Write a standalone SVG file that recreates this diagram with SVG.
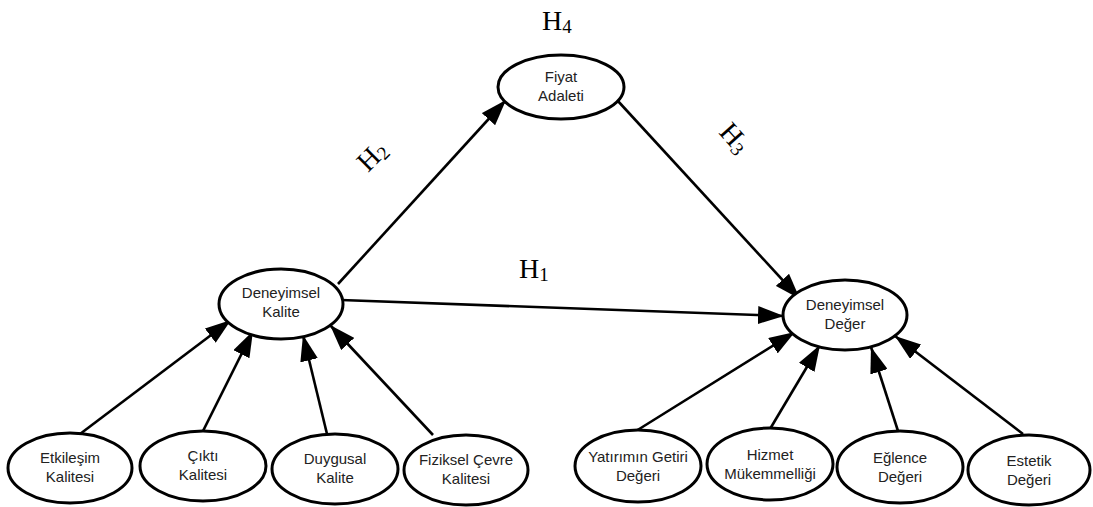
<svg xmlns="http://www.w3.org/2000/svg" width="1093" height="507" viewBox="0 0 1093 507">
  <style>
    .node ellipse { fill: #ffffff; stroke: #000000; stroke-width: 3; }
    .node text { font-family: "Liberation Sans", Arial, sans-serif; font-size: 15px; fill: #222222; text-anchor: middle; }
    .edges line { stroke: #000000; stroke-width: 2.6; marker-end: url(#arrow); }
    .hyp { font-family: "Liberation Serif", "Times New Roman", serif; font-size: 28px; fill: #000000; }
    .hyp tspan.sub { font-size: 19px; }
  </style>
  <defs>
    <marker id="arrow" viewBox="0 0 26 18" refX="26" refY="9" markerWidth="26" markerHeight="18" markerUnits="userSpaceOnUse" orient="auto">
      <path d="M0,0 L26,9 L0,18 Z" fill="#000000"/>
    </marker>
  </defs>
  <rect width="1093" height="507" fill="#ffffff"/>

  <!-- connectors -->
  <g id="edges" class="edges">
    <line x1="338" y1="284" x2="506" y2="100"/>
    <line x1="617" y1="100" x2="800" y2="299"/>
    <line x1="341" y1="300" x2="784" y2="316"/>
    <line x1="80" y1="434" x2="231" y2="320"/>
    <line x1="203" y1="431" x2="253" y2="331"/>
    <line x1="327" y1="434" x2="303" y2="335"/>
    <line x1="433" y1="435" x2="330" y2="325"/>
    <line x1="636" y1="431" x2="795" y2="332"/>
    <line x1="770" y1="429" x2="820" y2="345"/>
    <line x1="898" y1="431" x2="871" y2="347"/>
    <line x1="1023" y1="434" x2="895" y2="336"/>
  </g>

  <!-- hypothesis labels -->
  <text class="hyp" x="542" y="30">H<tspan class="sub" dy="3">4</tspan></text>
  <text class="hyp" x="519" y="278">H<tspan class="sub" dy="3">1</tspan></text>
  <text class="hyp" transform="translate(368,173) rotate(-45)">H<tspan class="sub" dy="3">2</tspan></text>
  <text class="hyp" transform="translate(718,133) rotate(48)">H<tspan class="sub" dy="3">3</tspan></text>

  <!-- central constructs -->
  <g id="fiyat-adaleti" class="node">
    <ellipse cx="561" cy="87" rx="63" ry="32"/>
    <text x="561" y="82">Fiyat</text>
    <text x="561" y="101">Adaleti</text>
  </g>
  <g id="deneyimsel-kalite" class="node">
    <ellipse cx="281" cy="304" rx="62" ry="35"/>
    <text x="281" y="298">Deneyimsel</text>
    <text x="281" y="317">Kalite</text>
  </g>
  <g id="deneyimsel-deger" class="node">
    <ellipse cx="845" cy="315" rx="62" ry="35"/>
    <text x="845" y="310">Deneyimsel</text>
    <text x="845" y="329">Değer</text>
  </g>

  <!-- quality dimensions -->
  <g id="etkilesim-kalitesi" class="node">
    <ellipse cx="70" cy="468" rx="62" ry="35"/>
    <text x="70" y="463">Etkileşim</text>
    <text x="70" y="482">Kalitesi</text>
  </g>
  <g id="cikti-kalitesi" class="node">
    <ellipse cx="203" cy="466" rx="63" ry="35"/>
    <text x="203" y="461">Çıktı</text>
    <text x="203" y="480">Kalitesi</text>
  </g>
  <g id="duygusal-kalite" class="node">
    <ellipse cx="335" cy="469" rx="63" ry="35"/>
    <text x="335" y="464">Duygusal</text>
    <text x="335" y="483">Kalite</text>
  </g>
  <g id="fiziksel-cevre-kalitesi" class="node">
    <ellipse cx="466" cy="470" rx="62" ry="35"/>
    <text x="466" y="465">Fiziksel Çevre</text>
    <text x="466" y="484">Kalitesi</text>
  </g>

  <!-- value dimensions -->
  <g id="yatirimin-getiri-degeri" class="node">
    <ellipse cx="638" cy="466" rx="63" ry="36"/>
    <text x="638" y="462">Yatırımın Getiri</text>
    <text x="638" y="481">Değeri</text>
  </g>
  <g id="hizmet-mukemmelligi" class="node">
    <ellipse cx="770" cy="464" rx="63" ry="36"/>
    <text x="770" y="460">Hizmet</text>
    <text x="770" y="479">Mükemmelliği</text>
  </g>
  <g id="eglence-degeri" class="node">
    <ellipse cx="900" cy="467" rx="63" ry="36"/>
    <text x="900" y="463">Eğlence</text>
    <text x="900" y="482">Değeri</text>
  </g>
  <g id="estetik-degeri" class="node">
    <ellipse cx="1029" cy="470" rx="61" ry="35"/>
    <text x="1029" y="466">Estetik</text>
    <text x="1029" y="485">Değeri</text>
  </g>
</svg>
